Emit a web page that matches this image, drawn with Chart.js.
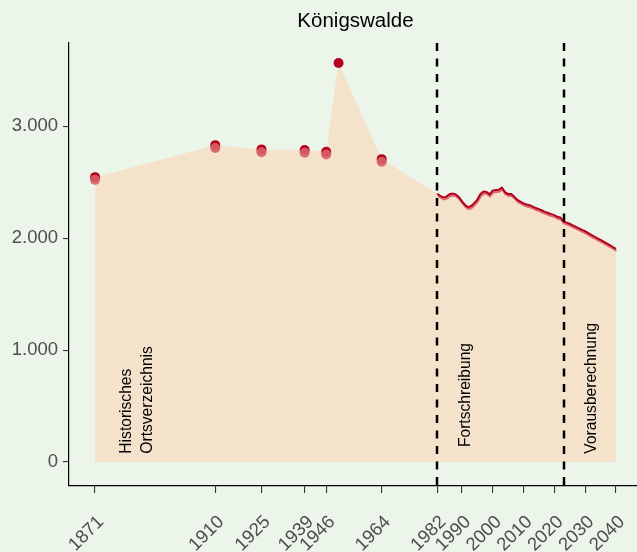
<!DOCTYPE html>
<html>
<head>
<meta charset="utf-8">
<script src="https://cdn.jsdelivr.net/npm/chart.js@4.4.1/dist/chart.umd.min.js"></script>
<style>
  html, body { margin: 0; padding: 0; background: #ecf5ea; overflow: hidden; }
  canvas { display: block; }
</style>
</head>
<body>
<canvas id="popchart" width="637" height="552"></canvas>
<script>
var histYears = [1871, 1910, 1925, 1939, 1946, 1950, 1964];
var histValues = [2544, 2830, 2792, 2786, 2770, 3563, 2705];
var altYears = [1871, 1910, 1925, 1939, 1946, 1964];
var altValues = [2520, 2804, 2766, 2762, 2746, 2682];
var seriesYears = [1982, 1983, 1984, 1985, 1986, 1987, 1988, 1989, 1990, 1991,
  1992, 1993, 1994, 1995, 1996, 1997, 1998, 1999, 2000, 2001,
  2002, 2003, 2004, 2005, 2006, 2007, 2008, 2009, 2010, 2011,
  2012, 2013, 2014, 2015, 2016, 2017, 2018, 2019, 2020, 2021,
  2022, 2023, 2024, 2025, 2026, 2027, 2028, 2029, 2030, 2031,
  2032, 2033, 2034, 2035, 2036, 2037, 2038, 2039, 2040];
var seriesValues = [2396, 2378, 2362, 2370, 2392, 2398, 2390, 2368, 2330, 2298,
  2276, 2286, 2310, 2342, 2392, 2415, 2412, 2390, 2424, 2430,
  2432, 2450, 2410, 2394, 2393, 2370, 2340, 2325, 2310, 2300,
  2294, 2280, 2268, 2258, 2246, 2234, 2224, 2214, 2205, 2190,
  2183, 2148, 2138, 2128, 2114, 2100, 2086, 2073, 2061, 2045,
  2029, 2014, 1998, 1984, 1968, 1953, 1938, 1920, 1903];
var xTickYears = [1871, 1910, 1925, 1939, 1946, 1964, 1982, 1990, 2000, 2010, 2020, 2030, 2040];
var yTickValues = [0, 1000, 2000, 3000];
var breakYears = [1982, 2023];
var sectionLabels = [['Historisches', 'Ortsverzeichnis'], ['Fortschreibung'], ['Vorausberechnung']];
var sectionX = [1881.2, 1991.3, 2032.1];
var sectionY = [75, 134, 75];

var FONT = '"Liberation Sans", Arial, sans-serif';
var DARK = '#b3001f';

function toPoints(xs, ys) {
  return xs.map(function (x, i) { return { x: x, y: ys[i] }; });
}

function dotted(v) {
  return String(v).replace(/\B(?=(\d{3})+(?!\d))/g, '.');
}

var background = {
  id: 'background',
  beforeDraw: function (chart) {
    var ctx = chart.ctx;
    ctx.save();
    ctx.fillStyle = '#ecf5ea';
    ctx.fillRect(0, 0, chart.width, chart.height);
    ctx.restore();
  }
};

var lineShadow = {
  id: 'lineShadow',
  beforeDatasetDraw: function (chart, args) {
    if (args.index !== 2) return;
    var ctx = chart.ctx;
    ctx.save();
    ctx.shadowColor = 'rgba(214, 92, 100, 0.9)';
    ctx.shadowOffsetX = 0.5;
    ctx.shadowOffsetY = 2;
    ctx.shadowBlur = 0;
  },
  afterDatasetDraw: function (chart, args) {
    if (args.index === 2) chart.ctx.restore();
  }
};

var extras = {
  id: 'extras',
  afterDatasetsDraw: function (chart) {
    var ctx = chart.ctx, area = chart.chartArea;
    var xs = chart.scales.x, ys = chart.scales.y;
    ctx.save();
    // period breaks
    ctx.strokeStyle = '#000';
    ctx.lineWidth = 2.5;
    ctx.setLineDash([8, 7.5]);
    breakYears.forEach(function (yr) {
      var px = Math.round(xs.getPixelForValue(yr));
      ctx.beginPath();
      ctx.moveTo(px, area.top);
      ctx.lineTo(px, area.bottom);
      ctx.stroke();
    });
    ctx.setLineDash([]);
    // section labels
    ctx.fillStyle = '#000';
    ctx.font = '15.6px ' + FONT;
    ctx.textAlign = 'left';
    ctx.textBaseline = 'middle';
    sectionLabels.forEach(function (lines, k) {
      ctx.save();
      ctx.translate(xs.getPixelForValue(sectionX[k]), ys.getPixelForValue(sectionY[k]));
      ctx.rotate(-Math.PI / 2);
      lines.forEach(function (t, i) { ctx.fillText(t, 0, i * 21.5); });
      ctx.restore();
    });
    // x tick labels, hung from their top-right corner
    ctx.fillStyle = '#4d4d4d';
    ctx.font = '18.5px ' + FONT;
    ctx.textAlign = 'right';
    ctx.textBaseline = 'middle';
    xTickYears.forEach(function (yr) {
      ctx.save();
      ctx.translate(xs.getPixelForValue(yr) + 6, area.bottom + 33);
      ctx.rotate(-Math.PI / 4);
      ctx.fillText(String(yr), 0, 0);
      ctx.restore();
    });
    // title, centred on the full (uncropped) panel
    ctx.fillStyle = '#000';
    ctx.font = '20.5px ' + FONT;
    ctx.textAlign = 'center';
    ctx.fillText('Königswalde', (area.left + xs.getPixelForValue(2048.45)) / 2, 21);
    ctx.restore();
  }
};

document.addEventListener("DOMContentLoaded", function () {
  var ctx = document.getElementById("popchart").getContext('2d');
  new Chart(ctx, {
    type: 'line',
    data: {
      datasets: [{
        data: toPoints(altYears, altValues),
        showLine: false,
        pointRadius: 5,
        pointBorderWidth: 0,
        pointBackgroundColor: 'rgba(216, 98, 104, 0.9)'
      }, {
        data: toPoints(histYears, histValues),
        showLine: false,
        pointRadius: 5,
        pointBorderWidth: 0,
        pointBackgroundColor: DARK
      }, {
        data: toPoints(seriesYears, seriesValues),
        borderColor: DARK,
        borderWidth: 2,
        pointRadius: 0,
        fill: false
      }, {
        data: toPoints(histYears.concat(seriesYears), histValues.concat(seriesValues)),
        borderWidth: 0,
        pointRadius: 0,
        backgroundColor: '#f5e2cb',
        fill: 'origin'
      }]
    },
    options: {
      responsive: false,
      animation: false,
      layout: { autoPadding: false, padding: { top: 43, left: 0, right: 0, bottom: 0 } },
      plugins: {
        legend: { display: false },
        tooltip: { enabled: false },
        title: { display: false }
      },
      scales: {
        x: {
          type: 'linear',
          min: 1862.55,
          max: 2046.83,
          afterBuildTicks: function (scale) {
            scale.ticks = xTickYears.map(function (v) { return { value: v }; });
          },
          afterFit: function (scale) { scale.height = 66; },
          grid: { drawOnChartArea: false, drawTicks: true, tickLength: 7, color: '#333', lineWidth: 1.1 },
          border: { display: true, color: '#000', width: 1.2 },
          ticks: { display: false, autoSkip: false }
        },
        y: {
          min: -214,
          max: 3742,
          afterBuildTicks: function (scale) {
            scale.ticks = yTickValues.map(function (v) { return { value: v }; });
          },
          afterFit: function (scale) { scale.width = 69; },
          grid: { drawOnChartArea: false, drawTicks: true, tickLength: 6, color: '#333', lineWidth: 1.1 },
          border: { display: true, color: '#000', width: 1.2 },
          ticks: {
            padding: 5,
            color: '#4d4d4d',
            font: { family: FONT, size: 18.5 },
            callback: function (v) { return dotted(v); }
          }
        }
      }
    },
    plugins: [background, lineShadow, extras]
  });
});
</script>
</body>
</html>
